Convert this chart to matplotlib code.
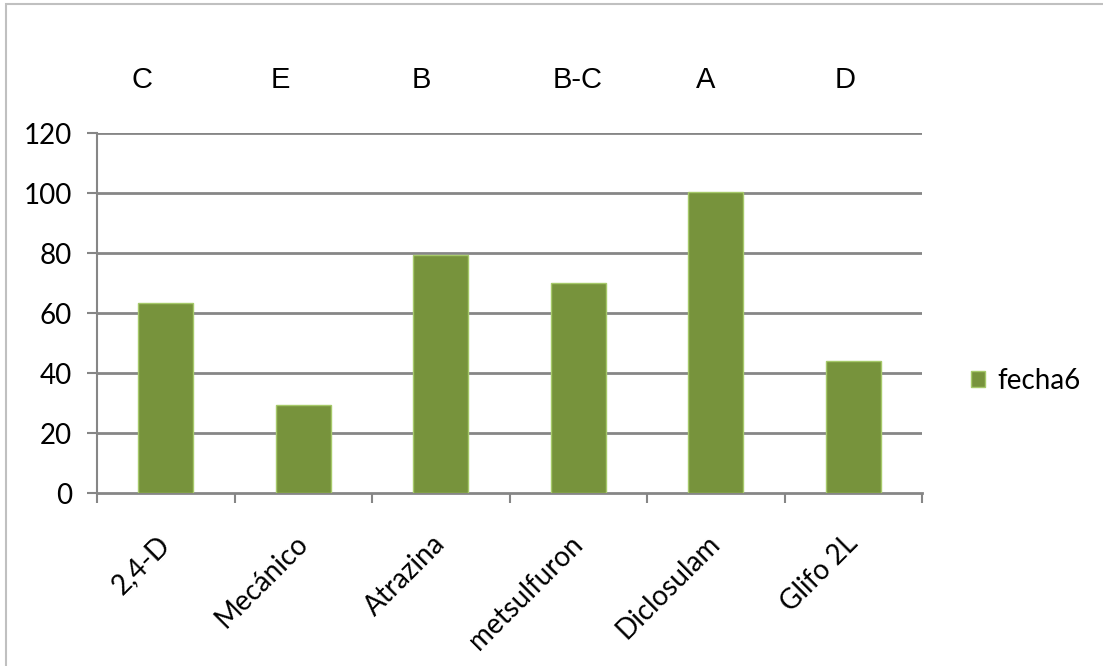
import matplotlib.pyplot as plt
from matplotlib.patches import Rectangle
from matplotlib import transforms
import numpy as np

categorias = ['2,4-D', 'Mecánico', 'Atrazina', 'metsulfuron', 'Diclosulam', 'Glifo 2L']
fecha6 = [63.3, 29.3, 79.3, 70, 100.3, 44]
letras = ['C', 'E', 'B', 'B-C', 'A', 'D']
yticks = [0, 20, 40, 60, 80, 100, 120]

# corrimiento horizontal (px) de cada letra respecto al centro de su barra
desplaz_letras = [-24, -23, -19, -1, -10, -8]

verde = '#77933C'
borde = '#A6C96A'
gris = '#868686'
fuente = ['Lato', 'DejaVu Sans']

fig = plt.figure(figsize=(11.03, 6.66), dpi=100)
# marco del area del grafico (solo se ven el borde superior e izquierdo)
fig.patches.append(Rectangle((6 / 1103, -0.1), 1.2, 1 - 4 / 666 + 0.1,
                             transform=fig.transFigure, fill=False,
                             edgecolor='#C0C0C0', linewidth=1.5))

ax = fig.add_axes([97 / 1103, 1 - 493 / 666, (922 - 97) / 1103, (493 - 133) / 666])
x = np.arange(len(categorias))
ax.bar(x, fecha6, width=0.4, color=verde, edgecolor=borde, linewidth=1,
       label='fecha6', zorder=3)

ax.set_xlim(-0.5, len(categorias) - 0.5)
ax.set_ylim(0, 120)
ax.set_yticks(yticks)
ax.set_yticklabels([str(v) for v in yticks], fontsize=20, family=fuente)
ax.tick_params(axis='y', length=7, width=1.5, color=gris, pad=11)

# lineas de division
for v in yticks[1:]:
    ax.axhline(v, color=gris, linewidth=2, zorder=1)

for s in ['top', 'right']:
    ax.spines[s].set_visible(False)
ax.spines['left'].set_color(gris)
ax.spines['left'].set_linewidth(1.5)
ax.spines['bottom'].set_color(gris)
ax.spines['bottom'].set_linewidth(2)

# marcas entre categorias, etiquetas centradas
ax.set_xticks(np.arange(-0.5, len(categorias)), minor=True)
ax.set_xticks(x)
ax.tick_params(axis='x', which='minor', length=7, width=1.5, color=gris)
ax.tick_params(axis='x', which='major', length=0, pad=27)
ax.set_xticklabels(categorias, rotation=45, ha='right', va='top',
                   rotation_mode='anchor', fontsize=20, family=fuente)
corrimiento = transforms.ScaledTranslation(-9 / 100, 0, fig.dpi_scale_trans)
for lab in ax.get_xticklabels():
    lab.set_transform(lab.get_transform() + corrimiento)

# letras de significancia encima de cada barra
for i, (letra, dx) in enumerate(zip(letras, desplaz_letras)):
    tr = transforms.offset_copy(ax.get_xaxis_transform(), fig=fig, x=dx, y=0, units='dots')
    ax.text(i, 1.147, letra, transform=tr, ha='center', va='center',
            fontsize=21, family=['Liberation Sans', 'DejaVu Sans'])

fig.legend(loc='center left', bbox_to_anchor=(971 / 1103, 1 - 381 / 666),
           frameon=False, handlelength=0.5, handleheight=0.5, handletextpad=0.45,
           borderpad=0, borderaxespad=0,
           prop={'size': 20, 'family': fuente})

fig.savefig('out.png', dpi=100)
